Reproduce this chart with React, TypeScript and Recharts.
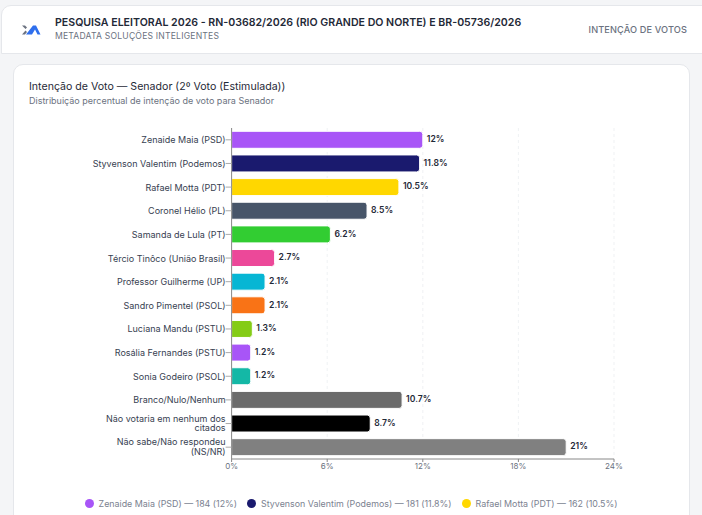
import React from "react";
import { BarChart, Bar, XAxis, YAxis, CartesianGrid, Cell, LabelList, Legend } from "recharts";

const categories = [
  "Zenaide Maia (PSD)", "Styvenson Valentim (Podemos)", "Rafael Motta (PDT)", "Coronel Hélio (PL)",
  "Samanda de Lula (PT)", "Tércio Tinôco (União Brasil)", "Professor Guilherme (UP)", "Sandro Pimentel (PSOL)",
  "Luciana Mandu (PSTU)", "Rosália Fernandes (PSTU)", "Sonia Godeiro (PSOL)", "Branco/Nulo/Nenhum",
  "Não votaria em nenhum dos citados", "Não sabe/Não respondeu (NS/NR)",
];
const values = [12, 11.8, 10.5, 8.5, 6.2, 2.7, 2.1, 2.1, 1.3, 1.2, 1.2, 10.7, 8.7, 21];
const colors = ["#a855f7", "#1a1a6e", "#ffd700", "#475569", "#32cd32", "#ec4899", "#06b6d4", "#f97316", "#84cc16", "#a855f7", "#14b8a6", "#6b6b6b", "#000000", "#808080"];
const tickValues = [0, 6, 12, 18, 24];
const legendItems = [
  { label: "Zenaide Maia (PSD) — 184 (12%)", color: "#a855f7" },
  { label: "Styvenson Valentim (Podemos) — 181 (11.8%)", color: "#1a1a6e" },
  { label: "Rafael Motta (PDT) — 162 (10.5%)", color: "#ffd700" },
];
const wrapped: Record<string, string[]> = {
  "Não votaria em nenhum dos citados": ["Não votaria em nenhum dos", "citados"],
  "Não sabe/Não respondeu (NS/NR)": ["Não sabe/Não respondeu", "(NS/NR)"],
};
const data = categories.map((name, i) => ({ name, value: values[i], color: colors[i] }));

const FONT = "Inter, 'Noto Sans', sans-serif";

const YTick = (props: any) => {
  const { x, y, payload } = props;
  const lines = wrapped[payload.value] || [payload.value];
  const start = lines.length > 1 ? y - 2 : y + 3.5;
  return (
    <text x={x} y={start} textAnchor="end" fontSize={9} fontFamily={FONT} fill="#374151">
      {lines.map((l: string, i: number) => (
        <tspan key={i} x={x} y={start + i * 9.5}>{l}</tspan>
      ))}
    </text>
  );
};

const LegendContent = () => (
  <div style={{ display: "flex", justifyContent: "center", gap: 10, fontFamily: FONT, fontSize: 8.9, color: "#7b8290", whiteSpace: "nowrap" }}>
    {legendItems.map((it) => (
      <span key={it.label} style={{ display: "inline-flex", alignItems: "center", gap: 5 }}>
        <span style={{ width: 9, height: 9, borderRadius: "50%", background: it.color, display: "inline-block" }} />
        {it.label}
      </span>
    ))}
  </div>
);

export default function App() {
  return (
    <div style={{ position: "absolute", left: 0, top: 0, width: 702, height: 515, overflow: "hidden", background: "#f4f5f7", fontFamily: FONT }}>
      <div style={{ position: "absolute", left: 1, top: 5, width: 720, height: 49, background: "#fff", borderRadius: "10px 10px 0 0", border: "1px solid #e5e7eb", boxSizing: "border-box" }} />
      <svg style={{ position: "absolute", left: 22, top: 25 }} width={19} height={10} viewBox="0 0 19 10">
        <path d="M0 0.5h3l2 2-1.5 1.5zM0 9.5l3.5-4 1.5 1.5-2 2.5z" fill="#6b7280" />
        <path d="M4 9.5l7-9h3l4.5 9h-3L13 4.5l-3 5H7.5l1.5-3-1.5 3z" fill="#2f6fed" />
      </svg>
      <div style={{ position: "absolute", left: 55, top: 16, fontSize: 10.6, fontWeight: 600, color: "#1f2937", whiteSpace: "nowrap" }}>
        PESQUISA ELEITORAL 2026 - RN-03682/2026 (RIO GRANDE DO NORTE) E BR-05736/2026
      </div>
      <div style={{ position: "absolute", left: 55, top: 31, fontSize: 8.6, color: "#6b7280", letterSpacing: 0.2, whiteSpace: "nowrap" }}>
        METADATA SOLUÇÕES INTELIGENTES
      </div>
      <div style={{ position: "absolute", right: 15, top: 24, fontSize: 9.2, fontWeight: 500, color: "#6b7280", letterSpacing: 0.12, whiteSpace: "nowrap" }}>
        INTENÇÃO DE VOTOS
      </div>
      <div style={{ position: "absolute", left: 13, top: 64, width: 677, height: 470, background: "#fff", borderRadius: 10, border: "1px solid #e5e7eb", boxSizing: "border-box" }} />
      <div style={{ position: "absolute", left: 29, top: 80, fontSize: 10.6, color: "#1f2937", whiteSpace: "nowrap" }}>
        Intenção de Voto — Senador (2º Voto (Estimulada))
      </div>
      <div style={{ position: "absolute", left: 29, top: 95, fontSize: 9, color: "#6b7280", whiteSpace: "nowrap" }}>
        Distribuição percentual de intenção de voto para Senador
      </div>
      <div style={{ position: "absolute", left: 0, top: 0 }}>
        <BarChart width={702} height={515} data={data} layout="vertical" barCategoryGap="14%"
          margin={{ top: 128, right: 88, bottom: 0, left: 0 }}>
          <CartesianGrid horizontal={false} stroke="#e5e7eb" strokeDasharray="3 3" strokeOpacity={0.6} />
          <XAxis type="number" domain={[0, 24]} ticks={tickValues} tickFormatter={(v: number) => `${v}%`}
            height={45} stroke="#888" tickLine={{ stroke: "#888" }} tickSize={3} tickMargin={1}
            tick={{ fontSize: 8, fill: "#6b7280", fontFamily: FONT }} />
          <YAxis type="category" dataKey="name" width={231.6} stroke="#888" tickSize={6} tickMargin={0} interval={0}
            tick={<YTick />} tickLine={{ stroke: "#aaa" }} />
          <Legend content={<LegendContent />} verticalAlign="bottom" wrapperStyle={{ left: 0, width: 702, bottom: 6 }} />
          <Bar dataKey="value" isAnimationActive={false} radius={[0, 3, 3, 0]} stroke="#fff" strokeWidth={1}>
            {data.map((d) => <Cell key={d.name} fill={d.color} />)}
            <LabelList dataKey="value" position="right" offset={4} dy={-0.8} formatter={(v: number) => `${v}%`}
              style={{ fontSize: 8.6, fontWeight: 600, fill: "#1f2937", fontFamily: FONT }} />
          </Bar>
        </BarChart>
      </div>
    </div>
  );
}
